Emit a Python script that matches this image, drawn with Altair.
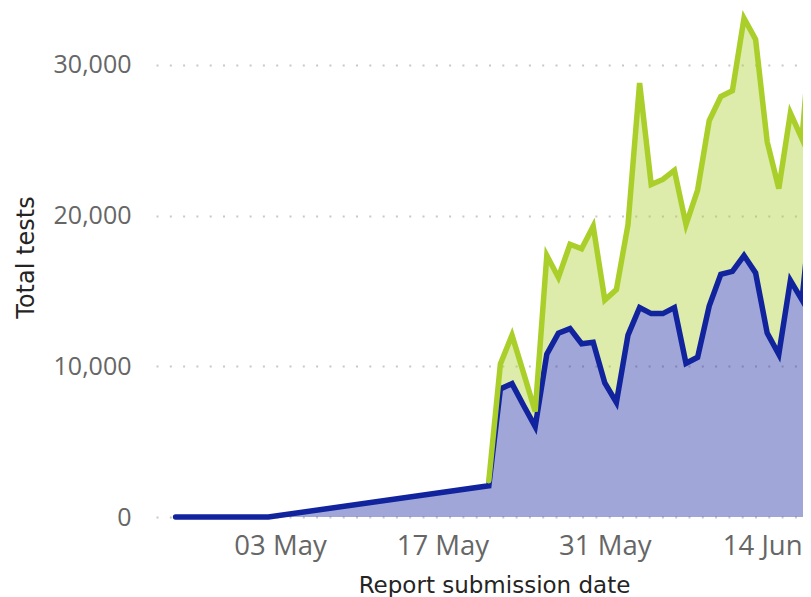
import altair as alt
import pandas as pd

# ---- data ----
blue_dates = ["2020-04-24", "2020-05-02",
              "2020-05-21", "2020-05-22", "2020-05-23", "2020-05-24", "2020-05-25",
              "2020-05-26", "2020-05-27", "2020-05-28", "2020-05-29", "2020-05-30",
              "2020-05-31", "2020-06-01", "2020-06-02", "2020-06-03", "2020-06-04",
              "2020-06-05", "2020-06-06", "2020-06-07", "2020-06-08", "2020-06-09",
              "2020-06-10", "2020-06-11", "2020-06-12", "2020-06-13", "2020-06-14",
              "2020-06-15", "2020-06-16", "2020-06-17", "2020-06-18"]
blue_values = [0, 0,
               2070, 8500, 8850, 7400, 6000,
               10800, 12200, 12500, 11500, 11600,
               8900, 7600, 12070, 13900, 13500,
               13500, 13900, 10200, 10600, 14000,
               16100, 16300, 17350, 16200, 12200,
               10800, 15700, 14400, 22000]

green_dates = blue_dates[2:]
green_values = [2400, 10160, 12070, 9550, 7000,
                17350, 15900, 18100, 17800, 19300,
                14400, 15100, 19400, 28800, 22070,
                22400, 23000, 19400, 21700, 26300,
                27900, 28300, 33100, 31700, 24900,
                21800, 26800, 25100, 34500]

x_ticks = [(2020, 5, 3), (2020, 5, 17), (2020, 5, 31), (2020, 6, 14)]
y_ticks = [0, 10000, 20000, 30000]

BLUE = "#12239E"
GREEN = "#AACF2A"

blue_df = pd.DataFrame({"date": blue_dates, "value": blue_values})
green_df = pd.DataFrame({"date": green_dates, "total": green_values,
                         "base": blue_values[2:]})

x_scale = alt.Scale(
    type="utc",
    domain=[alt.DateTime(year=2020, month=4, date=22, hours=7, minutes=26, utc=True),
            alt.DateTime(year=2020, month=6, date=17, hours=2, minutes=4, utc=True)],
    nice=False,
)
y_scale = alt.Scale(domain=[0, 33780], nice=False, zero=True)

x_axis = alt.Axis(
    title="Report submission date",
    values=[alt.DateTime(year=a, month=b, date=c, utc=True) for a, b, c in x_ticks],
    labelExpr="utcFormat(datum.value, '%d %b')",
    grid=False, ticks=False, tickSize=0, domain=False,
    labelFont="Open Sans", labelFontSize=27.5, labelColor="#666666",
    labelBaseline="alphabetic", labelPadding=37, labelOverlap=False, labelFlush=False,
    labelOffset={"condition": {"test": "datum.value > utc(2020, 5, 10)", "value": -5},
                 "value": 0},
    titleFont="DejaVu Sans", titleFontSize=23, titleFontWeight="normal", titleColor="#252423",
    titleX=338, titleY=75, titleAnchor="middle", titleAlign="center",
    titleBaseline="alphabetic",
)
y_axis = alt.Axis(
    title="Total tests",
    values=y_ticks, labelExpr="format(datum.value, ',.0f')",
    grid=True, gridDash=[2, 11.3], gridColor="#C8C8C8", gridWidth=2,
    ticks=False, tickSize=0, domain=False,
    labelFont="Open Sans", labelFontSize=25, labelColor="#666666", labelPadding=25,
    titleFont="DejaVu Sans", titleFontSize=24, titleFontWeight="normal", titleColor="#252423",
    titleAngle=270, titleX=-123, titleY=249, titleAlign="center",
    titleBaseline="alphabetic",
)

blue_area = alt.Chart(blue_df).mark_area(color=BLUE, opacity=0.4).encode(
    x=alt.X("date:T", scale=x_scale, axis=x_axis),
    y=alt.Y("value:Q", scale=y_scale, axis=y_axis),
)
green_area = alt.Chart(green_df).mark_area(color=GREEN, opacity=0.4).encode(
    x=alt.X("date:T", scale=x_scale),
    y=alt.Y("total:Q", scale=y_scale),
    y2="base:Q",
)
blue_line = alt.Chart(blue_df).mark_line(color=BLUE, strokeWidth=5.5, strokeCap="round").encode(
    x=alt.X("date:T", scale=x_scale),
    y=alt.Y("value:Q", scale=y_scale),
)
green_line = alt.Chart(green_df).mark_line(color=GREEN, strokeWidth=5.5, strokeCap="round").encode(
    x=alt.X("date:T", scale=x_scale),
    y=alt.Y("total:Q", scale=y_scale),
)

chart = alt.layer(blue_area, green_area, blue_line, green_line).properties(
    width=647, height=509,
    autosize=alt.AutoSizeParams(type="none"),
    padding={"left": 148, "top": 0, "right": 0, "bottom": 80},
).configure_view(stroke=None)

chart.save("out.html", embed_options={"renderer": "svg", "actions": False})
